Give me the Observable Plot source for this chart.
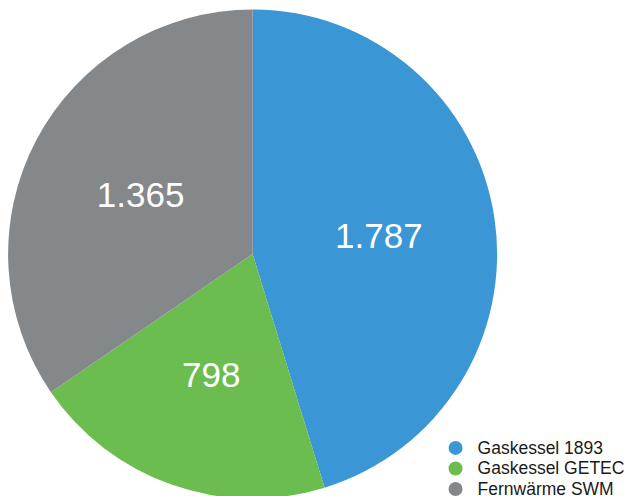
<!DOCTYPE html>
<html>
<head>
<meta charset="utf-8">
<script src="https://cdn.jsdelivr.net/npm/d3@7"></script>
<script src="https://cdn.jsdelivr.net/npm/@observablehq/plot@0.6"></script>
<style>
  html, body { margin: 0; padding: 0; background: #fff; }
  #chart svg { display: block; }
</style>
</head>
<body>
<div id="chart"></div>
<script>
const categories = ["Gaskessel 1893", "Gaskessel GETEC", "Fernwärme SWM"];
const values = [1787, 798, 1365];
const valueLabels = ["1.787", "798", "1.365"];
const colors = ["#3a96d4", "#6bbd4f", "#85888b"];

const data = categories.map((c, i) => ({category: c, value: values[i], label: valueLabels[i]}));
const arcs = d3.pie().sort(null).value(d => d.value)(data);
const labelRadius = 0.52;
const labels = arcs.map(a => {
  const m = (a.startAngle + a.endAngle) / 2;
  return {label: a.data.label, x: labelRadius * Math.sin(m), y: labelRadius * Math.cos(m)};
});

const fallbackColor = d3.scaleOrdinal(categories, colors);

function pieMark(index, scales) {
  const color = scales.color || fallbackColor;
  const cx = scales.x(0), cy = scales.y(0);
  const r = scales.x(1) - scales.x(0);
  const arc = d3.arc().innerRadius(0).outerRadius(r);
  const g = d3.create("svg:g").attr("transform", `translate(${cx},${cy})`);
  g.selectAll("path")
    .data(arcs)
    .join("path")
    .attr("d", arc)
    .attr("fill", d => color(d.data.category));
  return g.node();
}

const chart = Plot.plot({
  width: 628,
  height: 496,
  margin: 0,
  style: {fontFamily: "'Liberation Sans', Arial, Helvetica, sans-serif", background: "white"},
  x: {domain: [-1, 1], range: [8.1, 497.1], axis: null},
  y: {domain: [1, -1], range: [9.5, 498.5], axis: null},
  color: {domain: categories, range: colors},
  marks: [
    pieMark,
    Plot.text(labels, {x: "x", y: "y", text: "label", fill: "white", fontSize: 35, dy: 1}),
    Plot.dot(categories, {x: () => 0.828, y: (d, i) => -0.791 - i * 0.084, r: 7, fill: d => d}),
    Plot.text(categories, {x: () => 0.918, y: (d, i) => -0.791 - i * 0.084, text: d => d, textAnchor: "start", fontSize: 17.5, fill: "#1a1a1a"})
  ]
});
document.getElementById("chart").appendChild(chart);
</script>
</body>
</html>
